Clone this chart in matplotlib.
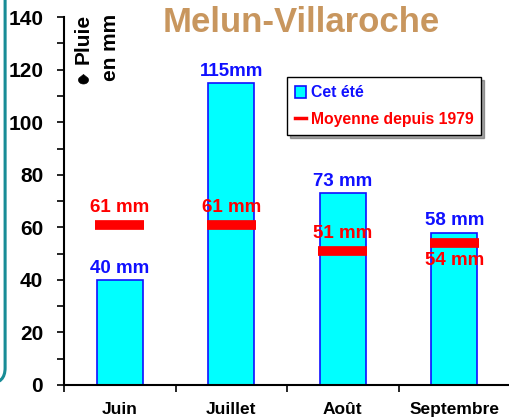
import matplotlib
matplotlib.use("Agg")
import matplotlib.pyplot as plt
import numpy as np
from matplotlib.patches import FancyBboxPatch, Patch, Polygon
from matplotlib.lines import Line2D

plt.rcParams["font.family"] = ["Liberation Sans", "DejaVu Sans"]
plt.rcParams["font.weight"] = "bold"

months = ["Juin", "Juillet", "Août", "Septembre"]
this_summer = [40, 115, 73, 58]
summer_labels = ["40 mm", "115mm", "73 mm", "58 mm"]
average = [61, 61, 51, 54]
average_labels = ["61 mm", "61 mm", "51 mm", "54 mm"]

BLUE = "#1010ff"
RED = "#ff0000"
CYAN = "#00ffff"
TEAL = "#188c96"

fig = plt.figure(figsize=(5.10, 4.18), dpi=100)
ax = fig.add_axes([0.1255, 0.079, 0.8745, 0.880])

x = np.arange(len(months))
ax.bar(x, this_summer, width=0.41, color=CYAN, edgecolor=BLUE, linewidth=1.2, zorder=2)
ax.hlines(average, x - 0.22, x + 0.22, colors=RED, linewidth=7, zorder=3)

for i, (v, lab) in enumerate(zip(this_summer, summer_labels)):
    ax.text(i, v + 1.2, lab, color=BLUE, ha="center", va="bottom", fontsize=13.5, fontweight="bold")

# red labels: above the bar, except September below
for i, (v, lab) in enumerate(zip(average, average_labels)):
    if i == 3:
        ax.text(i, v - 3.5, lab, color=RED, ha="center", va="top", fontsize=13.5,
                fontweight="bold", zorder=4)
    else:
        ax.text(i, v + 3.5, lab, color=RED, ha="center", va="bottom", fontsize=13.5,
                fontweight="bold", zorder=4)

ax.set_xlim(-0.5, 3.5)
ax.set_ylim(0, 140)
ax.set_yticks(range(0, 141, 20))
ax.set_yticks(range(0, 141, 10), minor=True)
ax.set_xticks(np.arange(-0.5, 3.6, 1.0))
ax.set_xticklabels([])
ax.set_xticks(x, minor=True)
ax.set_xticklabels(months, minor=True, fontsize=12.5, fontweight="bold")
ax.tick_params(axis="x", which="minor", length=0, pad=12)
ax.tick_params(axis="x", which="major", length=5, width=1.2, direction="out")
ax.tick_params(axis="y", which="both", length=5, width=1.2, direction="out", labelsize=15, pad=10)
for t in ax.get_yticklabels():
    t.set_fontweight("bold")
for s in ["top", "right"]:
    ax.spines[s].set_visible(False)
for s in ["left", "bottom"]:
    ax.spines[s].set_linewidth(1.5)
ax.patch.set_visible(False)

fig.text(0.59, 0.945, "Melun-Villaroche", color="#c8965e", fontsize=25, fontweight="bold",
         ha="center", va="center")

# y label: two rotated lines, ending at the same height, drop glyph before "Pluie"
fig.text(0.163, 1 - 14 / 418, "Pluie", rotation=90, fontsize=15, fontweight="bold",
         ha="center", va="top")
fig.text(0.216, 1 - 14 / 418, "en mm", rotation=90, fontsize=15, fontweight="bold",
         ha="center", va="top")
cx, cy = 83.5, 418 - 80
theta = np.linspace(np.radians(150), np.radians(390), 40)
drop = np.vstack([[cx, cy + 5.5],
                  np.column_stack([cx + 5.0 * np.cos(theta), cy + 4.0 * np.sin(theta)])])
fig.patches.append(Polygon(drop, closed=True, facecolor="black", edgecolor="black",
                           linewidth=0.5, transform=None))

handles = [Patch(facecolor=CYAN, edgecolor=BLUE, linewidth=1.2),
           Line2D([0], [0], color=RED, linewidth=2.5)]
leg = fig.legend(handles, ["Cet été", "Moyenne depuis 1979"], loc="upper left",
                 bbox_to_anchor=(0.563, 0.815), frameon=True, fancybox=False, shadow=True,
                 edgecolor="black", fontsize=11.3, handlelength=0.7, handleheight=0.8,
                 handletextpad=0.3, borderpad=0.5, labelspacing=0.75, borderaxespad=0)
leg.get_frame().set_linewidth(1.0)
for txt, c in zip(leg.get_texts(), [BLUE, RED]):
    txt.set_color(c)
    txt.set_fontweight("bold")

# teal rounded frame edge on the left
frame = FancyBboxPatch((-0.3, 0.083), 0.31, 1.2, boxstyle="round,pad=0,rounding_size=0.03",
                       transform=fig.transFigure, facecolor="none", edgecolor=TEAL,
                       linewidth=2.2, mutation_aspect=510 / 418)
fig.patches.append(frame)

fig.savefig("out.png", dpi=100)
